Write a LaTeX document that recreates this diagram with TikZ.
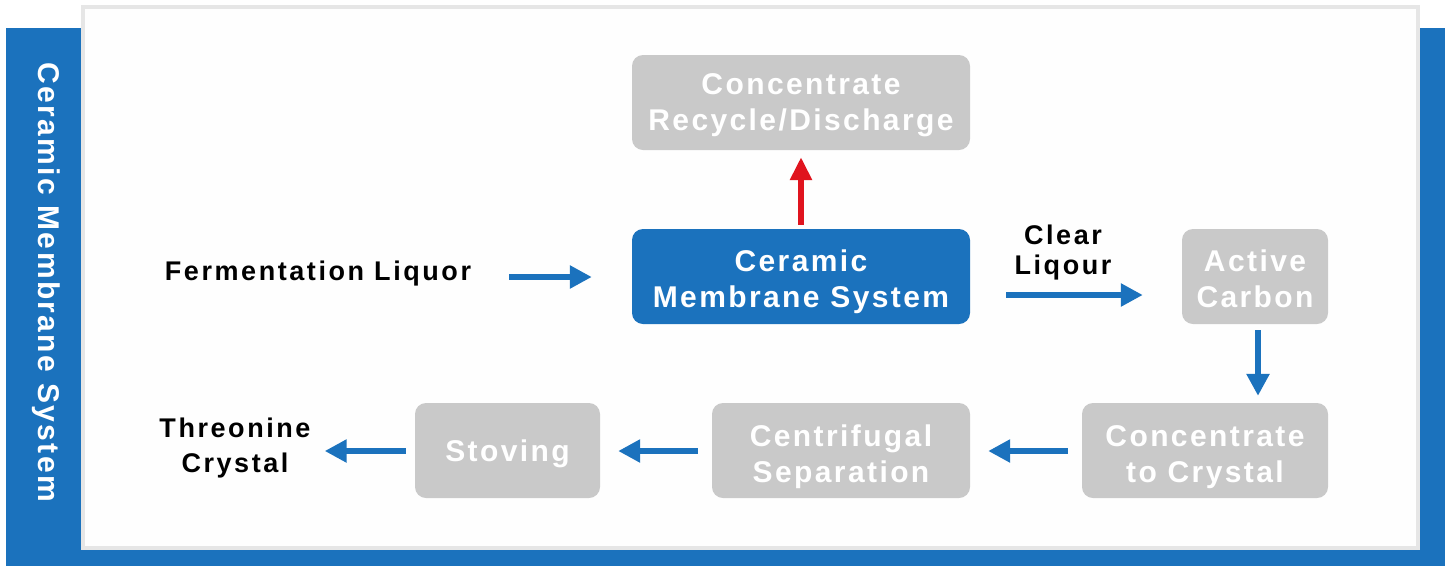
\documentclass[tikz,border=0pt]{standalone}
\usepackage{fontspec}
\setmainfont{Liberation Sans}
\newfontfamily\boxfont{Liberation Sans}[LetterSpace=8]
\newfontfamily\lblfont{Liberation Sans}[LetterSpace=9.5]
\usetikzlibrary{arrows.meta}
\definecolor{mblue}{HTML}{1B72BD}
\definecolor{mgray}{HTML}{C9C9C9}
\definecolor{mred}{HTML}{E0141E}
\definecolor{mborder}{HTML}{E6E6E6}
\tikzset{
  box/.style={rectangle, rounded corners=11pt, fill=mgray,
    minimum height=95pt, inner sep=0pt},
  bluebox/.style={box, fill=mblue},
  bt/.style={text=white, font=\boxfont\bfseries\fontsize{30pt}{36pt}\selectfont,
    align=center, inner sep=0pt},
  lbl/.style={font=\lblfont\bfseries\fontsize{27pt}{35pt}\selectfont, align=center, text=black, inner sep=0pt},
  arr/.style={draw=mblue, line width=6pt, -{Triangle[length=22pt,width=22pt]}},
  rarr/.style={draw=mred, line width=6pt, -{Triangle[length=23pt,width=21pt]}}
}
\begin{document}
\begin{tikzpicture}[x=1pt,y=-1pt]
\useasboundingbox (0,0) rectangle (1452,566);
\fill[white] (0,0) rectangle (1452,566);
\fill[mblue] (6,28) rectangle (1445,566);
\fill[mborder] (81,5) rectangle (1420,550);
\fill[white!99.5!black] (85,9) rectangle (1416,546);
\node[rotate=-90, text=white, font=\boxfont\bfseries\fontsize{30pt}{36pt}\selectfont] (side) at (46,282) {Ceramic Membrane System};

\node[box, minimum width=338pt, label={[bt, yshift=-3pt]center:Concentrate\\Recycle/Discharge}] (top) at (801,102.5) {};
\node[bluebox, minimum width=338pt, label={[bt, yshift=-5pt]center:Ceramic\\Membrane System}] (cms) at (801,276.5) {};
\node[box, minimum width=146pt, label={[bt, yshift=-2pt]center:Active\\Carbon}] (act) at (1255,276.5) {};
\node[box, minimum width=246pt, label={[bt, yshift=-7pt]center:Concentrate\\to Crystal}] (conc) at (1205,450.5) {};
\node[box, minimum width=258pt, label={[bt, yshift=-6pt]center:Centrifugal\\Separation}] (cen) at (841,450.5) {};
\node[box, minimum width=185pt, label={[bt, yshift=-3pt]center:Stoving}] (sto) at (507.5,450.5) {};

\node[lbl] (fer) at (318,274) {Fermentation Liquor};
\node[lbl, font=\lblfont\bfseries\fontsize{27pt}{30pt}\selectfont] (clr) at (1063,253) {Clear\\Liqour};
\node[lbl] (thr) at (235,448) {Threonine\\Crystal};

\draw[arr] ([xshift=38pt,yshift=-3pt]fer.east) -- ([xshift=-40pt,yshift=-0.5pt]cms.west);
\draw[rarr] ([yshift=4pt]cms.north) -- ([yshift=-7pt]top.south);
\draw[arr] ([xshift=36pt,yshift=-18.5pt]cms.east) -- ([xshift=-39pt,yshift=-18.5pt]act.west);
\draw[arr] ([xshift=3pt,yshift=-6pt]act.south) -- ([xshift=53pt,yshift=7pt]conc.north);
\draw[arr] ([xshift=-14pt,yshift=-0.5pt]conc.west) -- ([xshift=18pt,yshift=-0.5pt]cen.east);
\draw[arr] ([xshift=-14pt,yshift=-0.5pt]cen.west) -- ([xshift=18pt,yshift=-0.5pt]sto.east);
\draw[arr] ([xshift=-9pt,yshift=-0.5pt]sto.west) -- ([xshift=14pt,yshift=-3pt]thr.east);
\end{tikzpicture}
\end{document}
